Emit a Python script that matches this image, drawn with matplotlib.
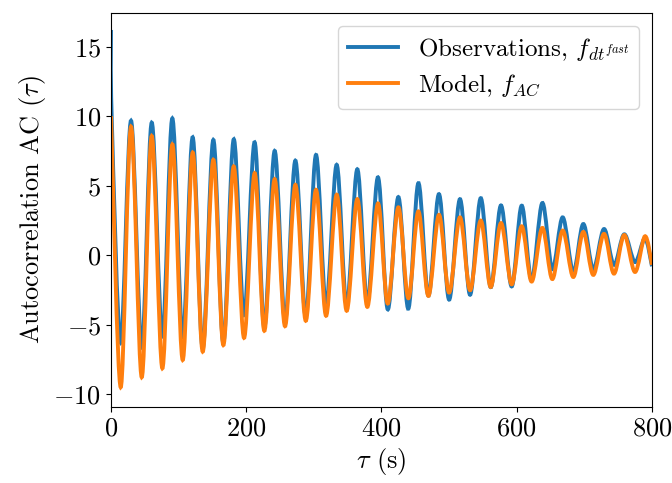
import numpy as np
import matplotlib
matplotlib.use("Agg")
import matplotlib.pyplot as plt
from matplotlib.path import Path
from matplotlib.patches import PathPatch
from matplotlib.lines import Line2D

plt.rcParams["font.family"] = "serif"
plt.rcParams["font.serif"] = ["cmr10"]
plt.rcParams["mathtext.fontset"] = "cm"
plt.rcParams["axes.formatter.use_mathtext"] = True
plt.rcParams["font.size"] = 19

# extremos (tau en s, AC)
obs_tau = [0, 1.0, 14.3, 29.6, 45.4, 60.2, 75.9, 90.7, 106, 120.8, 135.6, 151.3, 166.1,
           181.4, 196.7, 212.4, 226.7, 242, 257.3, 272.6, 288, 303.1, 318, 333.7, 348.5,
           364.2, 379, 394.8, 409.2, 424.9, 439.7, 454.5, 469.3, 485, 500, 516, 531,
           546.7, 561.5, 576.7, 592.5, 607.3, 622, 637.8, 652.6, 668, 683.6, 698.4,
           713.2, 729, 743.8, 759, 774.9, 789.6, 800]
obs_ac = [16.2, 10.0, -6.3, 9.67, -6.6, 9.53, -5.8, 9.84, -5.9, 8.48, -6.7, 8.29, -6.3,
          8.33, -4.3, 8.12, -5.2, 7.5, -4.7, 6.8, -4.4, 7.21, -3.6, 6.5, -3.6,
          6.18, -3.4, 5.6, -3.9, 4.18, -3.85, 5.18, -2.9, 4.39, -3.2, 4.03, -2.85,
          4.1, -2.3, 3.58, -2.25, 3.56, -1.8, 3.75, -1.0, 2.72, -1.2, 2.24,
          -1.0, 1.88, -0.7, 1.5, -0.5, 1.2, -0.8]

model_tau = [0, 14.3, 29.6, 45.4, 60.2, 75.9, 90.7, 106, 120.8, 135.6, 151.3, 166.1,
             181.4, 196.7, 212.4, 226.7, 242, 257.3, 272.6, 288, 303.1, 318, 333.7, 348.5,
             364.2, 379, 394.8, 409.2, 424.9, 439.7, 454.5, 469.3, 485, 500, 516, 531,
             546.7, 561.5, 576.7, 592.5, 607.3, 622, 637.8, 652.6, 668, 683.6, 698.4,
             713.2, 729, 743.8, 759, 774.9, 789.6, 800]
model_ac = [10.0, -9.5, 9.24, -8.78, 8.57, -8.14, 7.97, -7.54, 7.38, -6.94, 6.86, -6.47,
            6.38, -5.95, 5.90, -5.44, 5.47, -5.11, 5.06, -4.72, 4.70, -4.36, 4.35, -4.0,
            4.03, -3.72, 3.72, -3.48, 3.44, -3.1, 3.15, -2.93, 2.9, -2.69, 2.72, -2.52,
            2.49, -2.29, 2.31, -2.1, 2.08, -1.9, 1.96, -1.72, 1.77, -1.57, 1.67,
            -1.42, 1.53, -1.33, 1.45, -1.21, 1.36, -0.7]


def curva(t, v):
    # trazo suave (bezier) que pasa por los puntos leidos
    p = np.column_stack([t, v])
    n = len(p)
    verts = [p[0]]
    codes = [Path.MOVETO]
    for i in range(n - 1):
        p0 = p[max(i - 1, 0)]
        p1 = p[i]
        p2 = p[i + 1]
        p3 = p[min(i + 2, n - 1)]
        verts += [p1 + (p2 - p0) / 6, p2 - (p3 - p1) / 6, p2]
        codes += [Path.CURVE4] * 3
    return Path(verts, codes)


fig = plt.figure(figsize=(6.72, 4.83), dpi=100)
ax = fig.add_axes([0.1652, 0.158, 0.805, 0.8145])

lw = 2.8
ax.add_patch(PathPatch(curva(obs_tau, obs_ac), fill=False, edgecolor="#1f77b4", lw=lw))
ax.add_patch(PathPatch(curva(model_tau, model_ac), fill=False, edgecolor="#ff7f0e", lw=lw))

ax.set_xlim(0, 800)
ax.set_ylim(-10.9, 17.4)
ax.set_xticks([0, 200, 400, 600, 800])
ax.set_yticks([-10, -5, 0, 5, 10, 15])
ax.set_xlabel(r"$\tau$ (s)")
ax.set_ylabel(r"Autocorrelation AC $(\tau)$")

handles = [Line2D([], [], color="#1f77b4", lw=lw),
           Line2D([], [], color="#ff7f0e", lw=lw)]
ax.legend(handles, [r"Observations, $f_{dt^{fast}}$", r"Model, $f_{AC}$"],
          loc="upper right", fontsize=18, labelspacing=0.35)

fig.savefig("out.png", dpi=100)
